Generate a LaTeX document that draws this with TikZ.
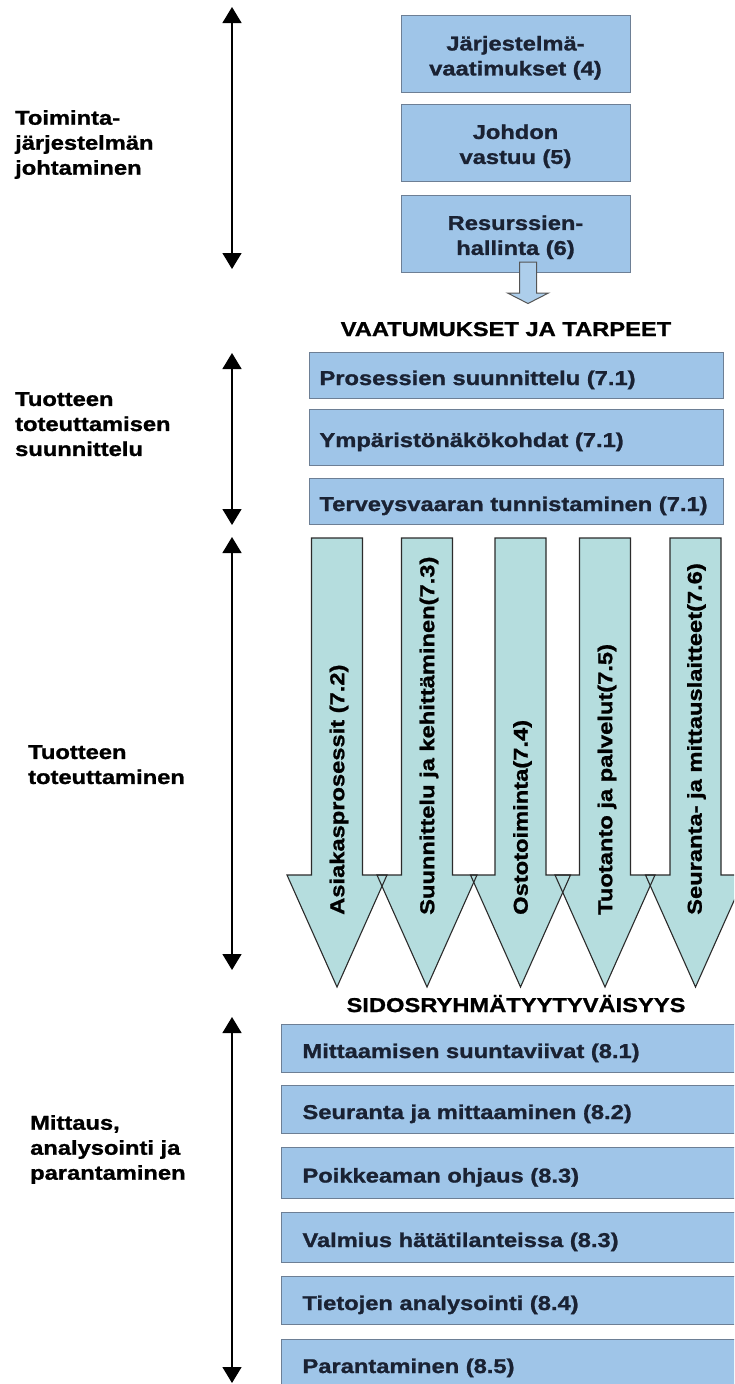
\documentclass[tikz,border=0pt]{standalone}
\usepackage{fontspec}
\setmainfont{Liberation Sans}[FakeStretch=1.185, BoldFeatures={FakeBold=1.2}]
\usetikzlibrary{arrows.meta}
\definecolor{boxblue}{HTML}{9FC5E8}
\definecolor{boxedge}{HTML}{6D7F95}
\definecolor{arrowteal}{HTML}{B5DDDE}
\definecolor{txtnavy}{HTML}{1A2233}
\definecolor{darkline}{HTML}{2B2B2B}
\newcommand\ft{\fontsize{20}{25}\selectfont\bfseries}
\newcommand\midtxt[1]{\makebox[394pt][l]{#1}}
\newcommand\bottxt[1]{\makebox[438pt][l]{#1}}
\newcommand\upstrut{\rule{0pt}{22pt}}
\begin{document}
\begin{tikzpicture}[x=1pt,y=-1pt,
  topbox/.style={draw=boxedge, fill=boxblue, line width=1pt, minimum width=229pt, minimum height=77pt, inner sep=0pt, align=center, font=\ft, text=txtnavy},
  midbox/.style={draw=boxedge, fill=boxblue, line width=1pt, minimum width=414pt, anchor=west, inner xsep=10pt, inner ysep=0pt, text height=20pt, text depth=0pt, font=\ft, text=txtnavy},
  botbox/.style={draw=boxedge, fill=boxblue, line width=1pt, minimum width=480pt, minimum height=48pt, anchor=west, inner xsep=21pt, inner ysep=0pt, text height=20pt, text depth=0pt, font=\ft, text=txtnavy},
  sidelabel/.style={anchor=north west, inner sep=0pt, align=left, font=\ft, text=black},
  heading/.style={anchor=base, inner sep=0pt, font=\ft, text=black},
  vtext/.style={rotate=90, anchor=west, inner sep=0pt, font=\ft, text=black},
  dblarrow/.style={line width=1.4pt, draw=black, {Triangle[width=19pt,length=16pt]}-{Triangle[width=19pt,length=16pt]}},
  bigfill/.style={fill=arrowteal},
  bigline/.style={draw=darkline, line width=1.1pt, line join=miter},
  smallarrow/.style={fill=boxblue!85!white, draw=darkline!80, line width=1pt}
]
\useasboundingbox (0,0) rectangle (734,1384);
\clip (0,0) rectangle (734,1384);

% --- top boxes
\node[topbox] (b4) at (515.5,54) {\upstrut J\"arjestelm\"a-\\vaatimukset (4)};
\node[topbox] (b5) at (515.5,142.5) {\upstrut Johdon\\vastuu (5)};
\node[topbox] (b6) at (515.5,233.5) {\upstrut Resurssien-\\hallinta (6)};

% small down arrow
\path[smallarrow] (519.5,262) -- (536.5,262) -- (536.5,293) -- (548.5,293) -- (528,303.5) -- (507.5,293) -- (519.5,293) -- cycle;

\node[heading] (vt) at (506,336) {VAATUMUKSET JA TARPEET};

% --- middle boxes
\node[midbox, minimum height=46pt] (p1) at (309,375) {\midtxt{Prosessien suunnittelu (7.1)}};
\node[midbox, minimum height=56pt] (p2) at (309,437) {\midtxt{Ymp\"arist\"on\"ak\"okohdat (7.1)}};
\node[midbox, minimum height=46pt] (p3) at (309,501) {\midtxt{Terveysvaaran tunnistaminen (7.1)}};

% --- big arrows
\foreach \c in {337,427,520.5,605,695.5}{
  \path[bigfill] ({\c-25.5},538) -- ({\c+25.5},538) -- ({\c+25.5},875) -- ({\c+50},875) -- (\c,987) -- ({\c-50},875) -- ({\c-25.5},875) -- cycle;
}
\foreach \c in {337,427,520.5,605,695.5}{
  \path[bigline] ({\c-25.5},538) -- ({\c+25.5},538) -- ({\c+25.5},875) -- ({\c+50},875) -- (\c,987) -- ({\c-50},875) -- ({\c-25.5},875) -- cycle;
}
\node[vtext] (r1) at (339,915) {Asiakasprosessit (7.2)};
\node[vtext] (r2) at (429,915) {Suunnittelu ja kehitt\"aminen(7.3)};
\node[vtext] (r3) at (522.5,915) {Ostotoiminta(7.4)};
\node[vtext] (r4) at (607,915) {Tuotanto ja palvelut(7.5)};
\node[vtext] (r5) at (696.5,915) {Seuranta- ja mittauslaitteet(7.6)};

\node[heading] (sid) at (516,1012) {SIDOSRYHM\"ATYYTYV\"AISYYS};

% --- bottom boxes
\node[botbox] (m1) at (281,1048) {\bottxt{Mittaamisen suuntaviivat (8.1)}};
\node[botbox] (m2) at (281,1109) {\bottxt{Seuranta ja mittaaminen (8.2)}};
\node[botbox, minimum height=51pt] (m3) at (281,1172.5) {\bottxt{Poikkeaman ohjaus (8.3)}};
\node[botbox, minimum height=50pt] (m4) at (281,1237) {\bottxt{Valmius h\"at\"atilanteissa (8.3)}};
\node[botbox] (m5) at (281,1300) {\bottxt{Tietojen analysointi (8.4)}};
\node[botbox] (m6) at (281,1363) {\bottxt{Parantaminen (8.5)}};

% --- side labels
\node[sidelabel] (l1) at (15,110) {Toiminta-\\j\"arjestelm\"an\\johtaminen};
\node[sidelabel] (l2) at (15,392) {Tuotteen\\toteuttamisen\\suunnittelu};
\node[sidelabel] (l3) at (28,745) {Tuotteen\\toteuttaminen};
\node[sidelabel] (l4) at (30,1115) {Mittaus,\\analysointi ja\\parantaminen};

% --- side double arrows
\coordinate (a1t) at (232,7);
\coordinate (a1b) at (232,269);
\coordinate (a2t) at (232,353);
\coordinate (a2b) at (232,525);
\coordinate (a3t) at (232,537);
\coordinate (a3b) at (232,970);
\coordinate (a4t) at (232,1017);
\coordinate (a4b) at (232,1383);
\draw[dblarrow] (a1t) -- (a1b);
\draw[dblarrow] (a2t) -- (a2b);
\draw[dblarrow] (a3t) -- (a3b);
\draw[dblarrow] (a4t) -- (a4b);
\end{tikzpicture}
\end{document}
